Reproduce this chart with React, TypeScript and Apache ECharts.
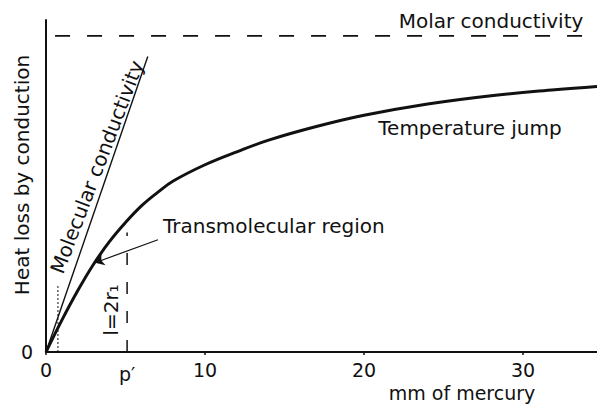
import { useEffect, useRef } from "react";
import * as echarts from "echarts";

// Pressure (mm of mercury) and heat loss (arbitrary units, 0-100)
const pressureMm = [0, 1, 2, 3, 4, 5, 6, 7, 8, 10, 12, 14, 17, 20, 24, 28, 32, 34.65];
const heatLoss = [0, 9.6, 18.5, 26.5, 33.3, 39, 44, 48, 51.5, 56.4, 60.3, 63.8, 67.9, 71.3, 74.7, 77.2, 79, 80];
const molecularX = [0, 6.4];
const molecularY = [0, 89];
const molarX = [0.57, 34.65];
const molarLevel = 95.2;
const pPrime = 5.1;
const pPrimeTop = 36;
const dottedX = 0.75;
const dottedTop = 20;
const arrowFrom = [7.04, 33.8];
const arrowTo = [3.08, 26.9];
const xMax = 34.65;
const yMax = 100;

const FONT = "DejaVu Sans";
const INK = "#111";

export default function App() {
  const ref = useRef<HTMLDivElement>(null);
  useEffect(() => {
    if (!ref.current) return;
    const chart = echarts.init(ref.current, undefined, { renderer: "svg" });
    const txt = (text: string, x: number, y: number, extra: any = {}) => ({
      type: "text",
      x,
      y,
      rotation: extra.rotation || 0,
      style: {
        text,
        fill: INK,
        font: `${extra.size || 20}px "${FONT}"`,
        align: extra.align || "center",
        verticalAlign: "middle",
      },
    });
    chart.setOption({
      animation: false,
      grid: { left: 46, right: 0, top: 20, bottom: 52, containLabel: false, outerBoundsMode: "none" },
      xAxis: {
        type: "value",
        min: 0,
        max: xMax,
        interval: 10,
        splitLine: { show: false },
        axisLine: { show: true, lineStyle: { color: INK, width: 2 } },
        axisTick: { show: true, length: 3, inside: false, lineStyle: { color: INK, width: 1.5 } },
        axisLabel: { color: INK, fontSize: 19, fontFamily: FONT, margin: 8, showMaxLabel: false },
      },
      yAxis: {
        type: "value",
        min: 0,
        max: yMax,
        interval: 100,
        splitLine: { show: false },
        axisLine: { show: true, lineStyle: { color: INK, width: 2 } },
        axisTick: { show: false },
        axisLabel: {
          color: INK,
          fontSize: 19,
          fontFamily: FONT,
          margin: 13,
          formatter: (v: number) => (v === 0 ? "0" : ""),
        },
      },
      series: [
        {
          type: "line",
          data: pressureMm.map((x, i) => [x, heatLoss[i]]),
          smooth: 0.4,
          showSymbol: false,
          lineStyle: { color: INK, width: 3 },
          markLine: {
            silent: true,
            symbol: ["none", "arrow"],
            symbolSize: 9,
            label: { show: false },
            lineStyle: { color: INK, width: 1.2, type: "solid" },
            data: [[{ coord: arrowFrom }, { coord: arrowTo }]],
          },
        },
        {
          type: "line",
          data: molecularX.map((x, i) => [x, molecularY[i]]),
          showSymbol: false,
          lineStyle: { color: INK, width: 1.4 },
        },
        {
          type: "line",
          data: molarX.map((x) => [x, molarLevel]),
          showSymbol: false,
          lineStyle: { color: INK, width: 1.8, type: [15, 17] },
        },
        {
          type: "line",
          data: [[pPrime, 0], [pPrime, pPrimeTop]],
          showSymbol: false,
          lineStyle: { color: INK, width: 1.5, type: [12, 17] },
        },
        {
          type: "line",
          data: [[dottedX, 0], [dottedX, dottedTop]],
          showSymbol: false,
          lineStyle: { color: INK, width: 1, type: [2, 2] },
        },
      ],
    });
    const pp = chart.convertToPixel({ gridIndex: 0 }, [pPrime, 0]) as number[];
    chart.setOption({
      graphic: [
        txt("Heat loss by conduction", 22, 175, { rotation: Math.PI / 2 }),
        txt("Molar conductivity", 491, 21),
        txt("Temperature jump", 470, 128),
        txt("Transmolecular region", 163, 226, { align: "left" }),
        txt("Molecular conductivity", 97, 167, { rotation: (69 * Math.PI) / 180 }),
        txt("l=2r\u2081", 111, 310, { rotation: Math.PI / 2 }),
        txt("p\u2032", pp[0], pp[1] + 22, { size: 19 }),
        txt("mm of mercury", 462, 393, { size: 19 }),
      ],
    });
    return () => chart.dispose();
  }, []);
  return (
    <div
      ref={ref}
      style={{ position: "fixed", left: 0, top: 0, width: 597, height: 404, background: "#fff" }}
    />
  );
}
